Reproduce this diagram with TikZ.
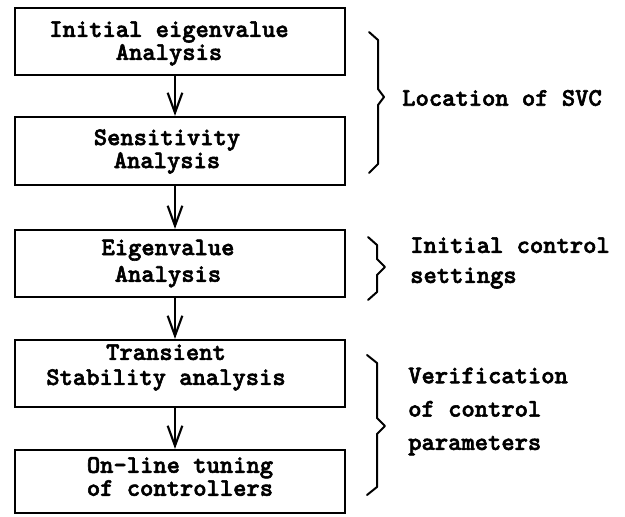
\documentclass[tikz,border=0pt]{standalone}
\usepackage{fontspec}
\newfontfamily\heavytt[FakeBold=2.2]{lmmonolt10-bold.otf}
\usetikzlibrary{arrows.meta}
\begin{document}
\lineskiplimit=-20pt
\begin{tikzpicture}[x=0.75pt,y=-0.75pt,
  stage/.style={draw, line width=1.7pt, minimum width=247.5pt, inner sep=0pt},
  caption/.style={inner sep=0pt, align=center,
    font=\heavytt\fontsize{19}{#1}\selectfont},
  note/.style={anchor=west, inner sep=0pt, align=left,
    font=\heavytt\fontsize{19}{#1}\selectfont},
  flow/.style={line width=1.6pt,
    -{Straight Barb[length=15pt,width=11pt,line width=1.6pt]}},
  curly/.style={line width=1.5pt, line cap=round, line join=round}]
\useasboundingbox (0,0) rectangle (625,517);

% process boxes
\node[stage, minimum height=50.25pt] (b1) at (180,41.5) {};
\node[stage, minimum height=51pt]    (b2) at (180,151)  {};
\node[stage, minimum height=50.25pt] (b3) at (180,263.5) {};
\node[stage, minimum height=50.25pt] (b4) at (180,373.5) {};
\node[stage, minimum height=47.25pt] (b5) at (180,481.5) {};

% box texts
\node[caption=17.25pt] (t1) at (169,43.5)  {Initial eigenvalue\\Analysis};
\node[caption=17.25pt] (t2) at (167,151.5) {Sensitivity\\Analysis};
\node[caption=20pt]    (t3) at (168,263.5) {Eigenvalue\\Analysis};
\node[caption=18.75pt] (t4) at (166,367.5) {Transient\\Stability analysis};
\node[caption=17.25pt] (t5) at (180,476.5) {On-line tuning\\of controllers};

% flow arrows
\coordinate (ax) at (175,0);
\draw[flow] (b1.south -| ax) -- (b2.north -| ax);
\draw[flow] (b2.south -| ax) -- (b3.north -| ax);
\draw[flow] (b3.south -| ax) -- (b4.north -| ax);
\draw[flow] (b4.south -| ax) -- (b5.north -| ax);

% curly braces grouping the stages
\draw[curly] (369,32) -- (378,40) -- (378,89) -- (384,97) -- (378,105)
  -- (378,164) -- (369,173);
\draw[curly] (368,237) -- (377,245) -- (377,259) -- (385,267) -- (377,275)
  -- (377,292) -- (368,300);
\draw[curly] (367,355) -- (377,363) -- (377,418) -- (385,426) -- (377,434)
  -- (377,487) -- (367,495);

% group labels
\node[note=20pt] (g1) at (402,98)  {Location of SVC};
\node[note=22.5pt] (g2) at (410,263) {Initial control\\settings};
\node[note=25pt] (g3) at (408,411.5) {Verification\\of control\\parameters};
\end{tikzpicture}
\end{document}
